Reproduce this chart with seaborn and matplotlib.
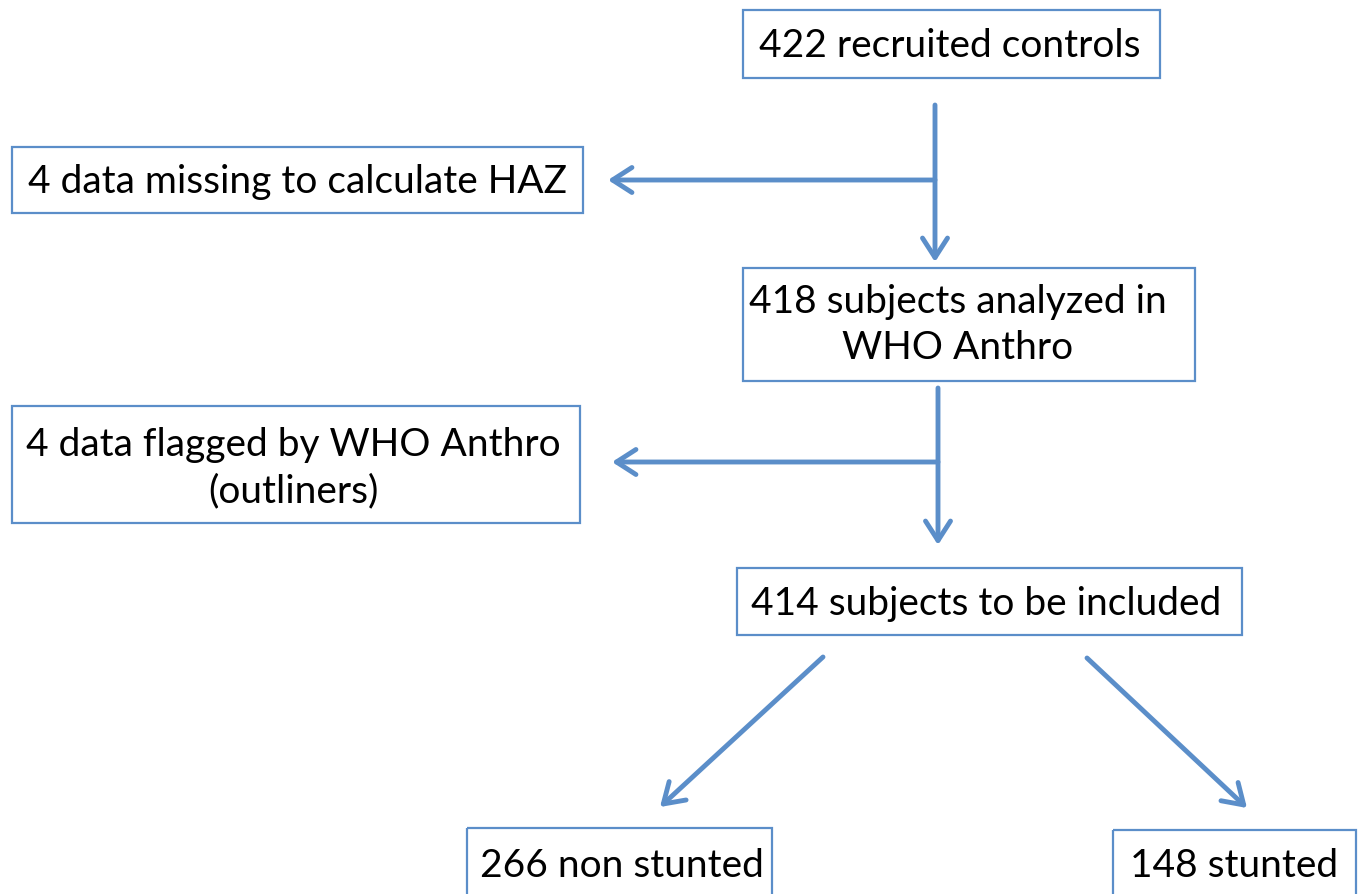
import seaborn as sns
import matplotlib.pyplot as plt
from matplotlib.patches import Rectangle, FancyArrowPatch

# counts at each stage of the flow
recruited = 422
missing_haz = 4
analyzed = 418
flagged = 4
included = 414
non_stunted = 266
stunted = 148

box_labels = [
    f"{recruited} recruited controls",
    f"{missing_haz} data missing to calculate HAZ",
    f"{analyzed} subjects analyzed in\nWHO Anthro",
    f"{flagged} data flagged by WHO Anthro\n(outliners)",
    f"{included} subjects to be included",
    f"{non_stunted} non stunted",
    f"{stunted} stunted",
]

# layout in pixel units: (x0, y0, x1, y1) and text centre
boxes = [
    (743, 10, 1160, 78, 950, 46),
    (12, 147, 583, 213, 297, 182),
    (743, 268, 1195, 381, 958, 325),
    (12, 406, 580, 523, 293, 468),
    (737, 568, 1242, 635, 986, 604),
    (467, 828, 772, 900, 622, 866),
    (1113, 830, 1356, 900, 1234, 866),
]

arrows = [
    ((935, 105), (935, 262)),
    ((935, 180), (608, 180)),
    ((938, 388), (938, 545)),
    ((938, 462), (612, 462)),
    ((823, 657), (660, 807)),
    ((1087, 658), (1247, 808)),
]

sns.set_theme(style="white")
plt.rcParams["font.family"] = ["Lato", "DejaVu Sans"]

blue = "#5b8ec9"

fig = plt.figure(figsize=(13.59, 8.94), dpi=100)
ax = fig.add_axes([0, 0, 1, 1])
ax.set_xlim(0, 1359)
ax.set_ylim(894, 0)
ax.axis("off")

for (x0, y0, x1, y1, tx, ty), label in zip(boxes, box_labels):
    ax.add_patch(Rectangle((x0, y0), x1 - x0, y1 - y0, fill=False,
                           edgecolor=blue, linewidth=1.6))
    ax.text(tx, ty, label, ha="center", va="center", fontsize=28,
            color="black", linespacing=1.35)

for start, end in arrows:
    ax.add_patch(FancyArrowPatch(start, end,
                                 arrowstyle="->,head_length=0.7,head_width=0.45",
                                 color=blue, linewidth=3.5, mutation_scale=20,
                                 shrinkA=0, shrinkB=0, capstyle="round",
                                 joinstyle="round"))

fig.savefig("out.png", dpi=100)
